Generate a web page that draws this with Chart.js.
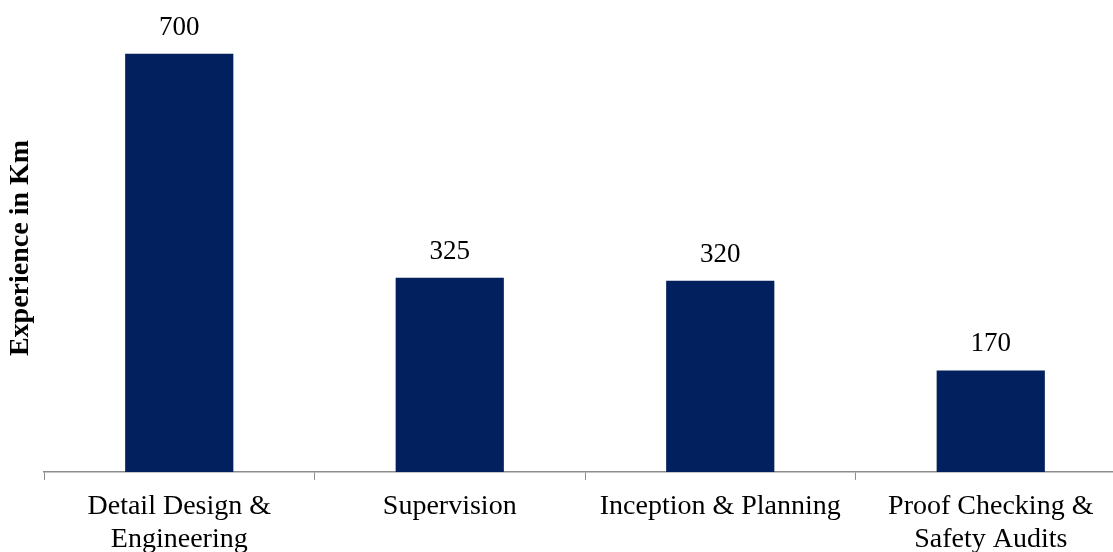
<!DOCTYPE html>
<html>
<head>
<meta charset="utf-8">
<script src="https://cdn.jsdelivr.net/npm/chart.js@4"></script>
<style>
  html, body { margin: 0; padding: 0; background: #fff; overflow: hidden; }
  #wrap { width: 1128px; height: 566px; position: relative; }
</style>
</head>
<body>
<div id="wrap"><canvas id="myChart"></canvas></div>
<script>
const categories = [['Detail Design &', 'Engineering'], 'Supervision', 'Inception & Planning', ['Proof Checking &', 'Safety Audits']];
const experienceKm = [700, 325, 320, 170];
const yTitle = 'Experience in Km';

const serif = "'Liberation Serif', 'DejaVu Serif', serif";

// draws the value above each bar
const valueLabels = {
    id: 'valueLabels',
    afterDatasetsDraw(chart) {
        const c = chart.ctx;
        const meta = chart.getDatasetMeta(0);
        c.save();
        c.font = '27px ' + serif;
        c.fillStyle = '#000';
        c.textAlign = 'center';
        c.textBaseline = 'alphabetic';
        meta.data.forEach((bar, i) => {
            c.fillText(chart.data.datasets[0].data[i], bar.x, bar.y - 19);
        });
        c.restore();
    }
};

const ctx = document.getElementById('myChart').getContext('2d');
const myChart = new Chart(ctx, {
    type: 'bar',
    data: {
        labels: categories,
        datasets: [
            {
                label: yTitle,
                data: experienceKm,
                backgroundColor: '#02205e',
                categoryPercentage: 1,
                barPercentage: 0.4
            }
        ]
    },
    options: {
        responsive: true,
        maintainAspectRatio: false,
        animation: false,
        layout: { padding: { top: 24, right: 2, left: 0, bottom: 0 } },
        scales: {
            x: {
                grid: {
                    display: true,
                    drawOnChartArea: false,
                    drawTicks: true,
                    tickLength: 8,
                    color: '#8c8c8c'
                },
                border: { color: '#8c8c8c', width: 1.5 },
                ticks: {
                    color: '#000',
                    padding: 10,
                    maxRotation: 0,
                    autoSkip: false,
                    font: { family: serif, size: 28, lineHeight: 1.18 }
                }
            },
            y: {
                min: 0,
                max: 750,
                afterFit(scale) { scale.width = 44; },
                grid: { display: false },
                border: { display: false },
                ticks: { display: false },
                title: {
                    display: true,
                    text: yTitle,
                    color: '#000',
                    padding: { top: 4, bottom: 4 },
                    font: { family: serif, size: 28, weight: 'bold' }
                }
            }
        },
        plugins: {
            legend: { display: false },
            tooltip: { enabled: false }
        }
    },
    plugins: [valueLabels]
});
</script>
</body>
</html>
